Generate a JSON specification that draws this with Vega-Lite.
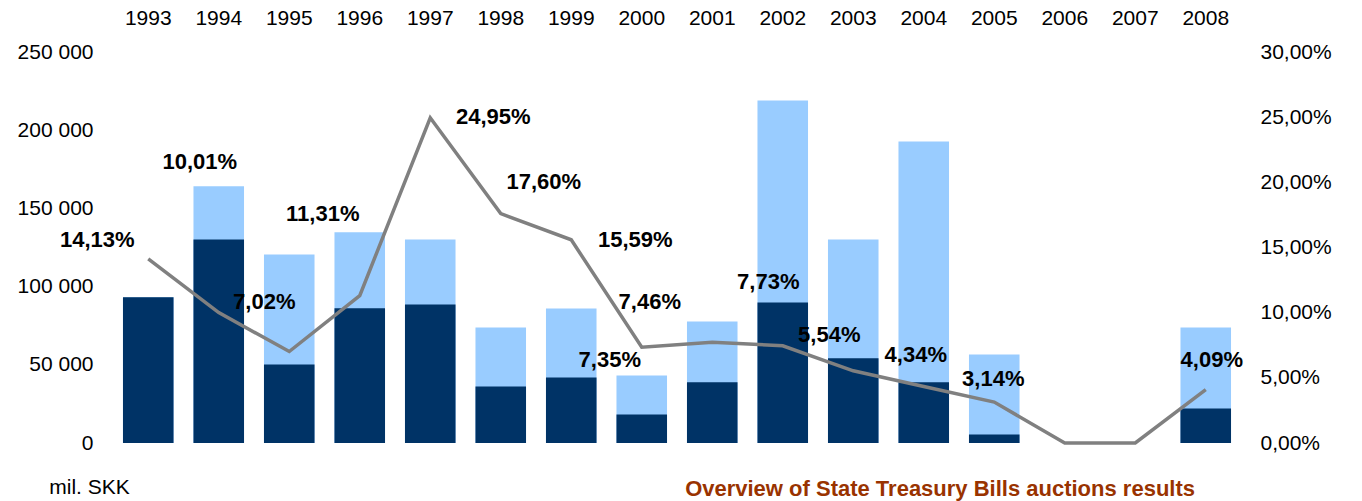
{
  "$schema": "https://vega.github.io/schema/vega-lite/v6.json",
  "width": 1128,
  "height": 391,
  "autosize": {"type": "none"},
  "padding": {"left": 113, "top": 52, "right": 121, "bottom": 58},
  "background": "white",
  "title": {
    "text": "Overview of State Treasury Bills auctions results",
    "orient": "bottom",
    "anchor": "end",
    "frame": "group",
    "dx": -46,
    "offset": -18,
    "font": "Liberation Sans",
    "fontSize": 22,
    "fontWeight": "bold",
    "color": "#993300"
  },
  "data": {
    "values": [
      {"year": 1993, "accepted": 93200, "demand": 93200, "rate": 0.1413},
      {"year": 1994, "accepted": 130100, "demand": 164200, "rate": 0.1001},
      {"year": 1995, "accepted": 50200, "demand": 120500, "rate": 0.0702},
      {"year": 1996, "accepted": 86200, "demand": 134800, "rate": 0.1131},
      {"year": 1997, "accepted": 88600, "demand": 130100, "rate": 0.2495},
      {"year": 1998, "accepted": 36100, "demand": 73800, "rate": 0.1760},
      {"year": 1999, "accepted": 41900, "demand": 86000, "rate": 0.1559},
      {"year": 2000, "accepted": 18200, "demand": 43200, "rate": 0.0735},
      {"year": 2001, "accepted": 38900, "demand": 77700, "rate": 0.0773},
      {"year": 2002, "accepted": 89800, "demand": 219000, "rate": 0.0746},
      {"year": 2003, "accepted": 54200, "demand": 130100, "rate": 0.0554},
      {"year": 2004, "accepted": 38900, "demand": 192800, "rate": 0.0434},
      {"year": 2005, "accepted": 5400, "demand": 56600, "rate": 0.0314},
      {"year": 2006, "accepted": null, "demand": null, "rate": 0},
      {"year": 2007, "accepted": null, "demand": null, "rate": 0},
      {"year": 2008, "accepted": 22100, "demand": 73800, "rate": 0.0409}
    ]
  },
  "encoding": {
    "x": {
      "field": "year",
      "type": "ordinal",
      "title": null,
      "scale": {"paddingInner": 0.283, "paddingOuter": 0.1415},
      "axis": {"orient": "top", "labelAngle": 0, "labelPadding": 24}
    }
  },
  "layer": [
    {
      "layer": [
        {
          "mark": {"type": "bar", "color": "#99CCFF"},
          "encoding": {
            "y": {
              "field": "demand",
              "type": "quantitative",
              "scale": {"domain": [0, 250000], "nice": false},
              "axis": {
                "orient": "left",
                "values": [0, 50000, 100000, 150000, 200000, 250000],
                "format": ",d",
                "labelPadding": 20,
                "title": "mil. SKK",
                "titleAngle": 0,
                "titleX": -24,
                "titleY": 435,
                "titleAlign": "center",
                "titleBaseline": "middle",
                "titleFont": "Liberation Sans",
                "titleFontSize": 21,
                "titleFontWeight": "normal",
                "titleColor": "black"
              }
            }
          }
        },
        {
          "mark": {"type": "bar", "color": "#003366"},
          "encoding": {
            "y": {"field": "accepted", "type": "quantitative", "scale": {"domain": [0, 250000], "nice": false}}
          }
        }
      ]
    },
    {
      "layer": [
        {
          "mark": {"type": "line", "color": "#808080", "strokeWidth": 3.5},
          "encoding": {
            "y": {
              "field": "rate",
              "type": "quantitative",
              "scale": {"domain": [0, 0.3], "nice": false},
              "axis": {
                "orient": "right",
                "values": [0, 0.05, 0.1, 0.15, 0.2, 0.25, 0.3],
                "format": ".2%",
                "labelPadding": 19,
                "title": null
              }
            }
          }
        },
        {
          "transform": [{"filter": "datum.rate > 0"}],
          "mark": {
            "type": "text",
            "font": "Liberation Sans",
            "fontSize": 22,
            "fontWeight": "bold",
            "color": "black",
            "align": "center",
            "baseline": "middle",
            "dx": {"expr": "datum.year==1993?-51:datum.year==1994?-19:datum.year==1995?-25:datum.year==1996?-37:datum.year==1997?63:datum.year==1998?43:datum.year==1999?64:datum.year==2000?-32:datum.year==2001?56:datum.year==2002?-133:datum.year==2003?-24:datum.year==2004?-8:datum.year==2005?-1:6"},
            "dy": {"expr": "datum.year==1993?-19:datum.year==1994?-151:datum.year==1995?-50:datum.year==1996?-82:datum.year==1997?-1:datum.year==1998?-32:datum.year==1999?0:datum.year==2000?13:datum.year==2001?-60:datum.year==2002?-44:datum.year==2003?-36:datum.year==2004?-31:datum.year==2005?-23:-30"}
          },
          "encoding": {
            "y": {"field": "rate", "type": "quantitative", "scale": {"domain": [0, 0.3], "nice": false}},
            "text": {"field": "rate", "type": "quantitative", "format": ".2%"}
          }
        }
      ]
    }
  ],
  "resolve": {"scale": {"y": "independent"}},
  "config": {
    "locale": {
      "number": {"decimal": ",", "thousands": " ", "grouping": [3], "currency": ["", ""]}
    },
    "view": {"stroke": null},
    "axis": {
      "domain": false,
      "ticks": false,
      "grid": false,
      "labelFont": "Liberation Sans",
      "labelFontSize": 21,
      "labelColor": "black"
    }
  }
}
